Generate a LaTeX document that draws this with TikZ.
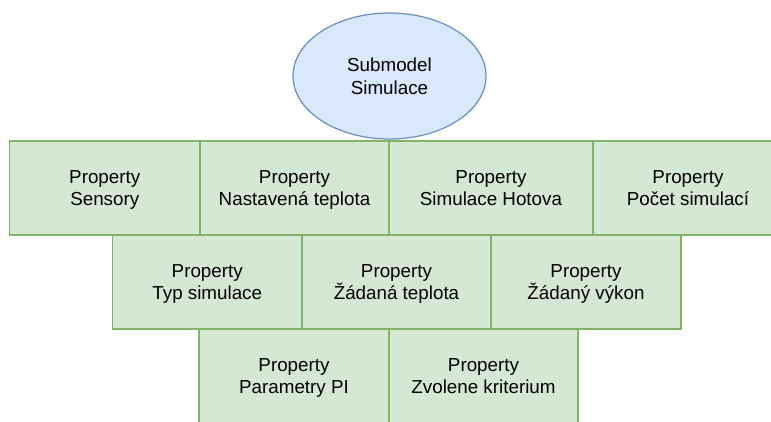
\documentclass[tikz,border=0pt]{standalone}
\usepackage{fontspec}
\setmainfont{Liberation Sans}
\usetikzlibrary{shapes.geometric}

\definecolor{propfill}{HTML}{D5E8D4}
\definecolor{propline}{HTML}{82B366}
\definecolor{subfill}{HTML}{DAE8FC}
\definecolor{subline}{HTML}{6C8EBF}

\newcommand{\flatline}[1]{\raisebox{0pt}[\height][0pt]{#1}}
\newcommand{\proptext}[1]{Property\\\flatline{#1}}

\tikzset{
  label font/.style={font=\fontsize{18.8}{22.5}\selectfont, align=center, inner sep=0pt},
  propbox/.style={rectangle, draw=propline, fill=propfill, line width=1.5pt,
    minimum height=94pt, label font},
  subnode/.style={ellipse, draw=subline, fill=subfill, line width=1.2pt,
    minimum width=193pt, minimum height=126pt, label font}
}

\begin{document}
\begin{tikzpicture}[x=1pt, y=-1pt]
    \useasboundingbox (0,0) rectangle (771,421);
    \clip (0,0) rectangle (771,421);
    \node[subnode] (submodel) at (389.5, 76) {Submodel\\\flatline{Simulace}};

    \node[propbox, minimum width=190.5pt] (sensory)  at (104.75,188) {\proptext{Sensory}};
    \node[propbox, minimum width=189pt]   (nastav)   at (294.5, 188) {\proptext{Nastavená teplota}};
    \node[propbox, minimum width=204pt]   (hotova)   at (491,   188) {\proptext{Simulace Hotova}};
    \node[propbox, minimum width=190pt]   (pocet)    at (688,   188) {\proptext{Počet simulací}};

    \node[propbox, minimum width=189.5pt] (typ)      at (207.25,282) {\proptext{Typ simulace}};
    \node[propbox, minimum width=189pt]   (zadteplo) at (396.5, 282) {\proptext{Žádaná teplota}};
    \node[propbox, minimum width=190pt]   (zadvykon) at (586,   282) {\proptext{Žádaný výkon}};

    \node[propbox, minimum width=190pt]   (param)    at (294,   376) {\proptext{Parametry PI}};
    \node[propbox, minimum width=189pt]   (kriter)   at (483.5, 376) {\proptext{Zvolene kriterium}};
  \end{tikzpicture}
\end{document}
